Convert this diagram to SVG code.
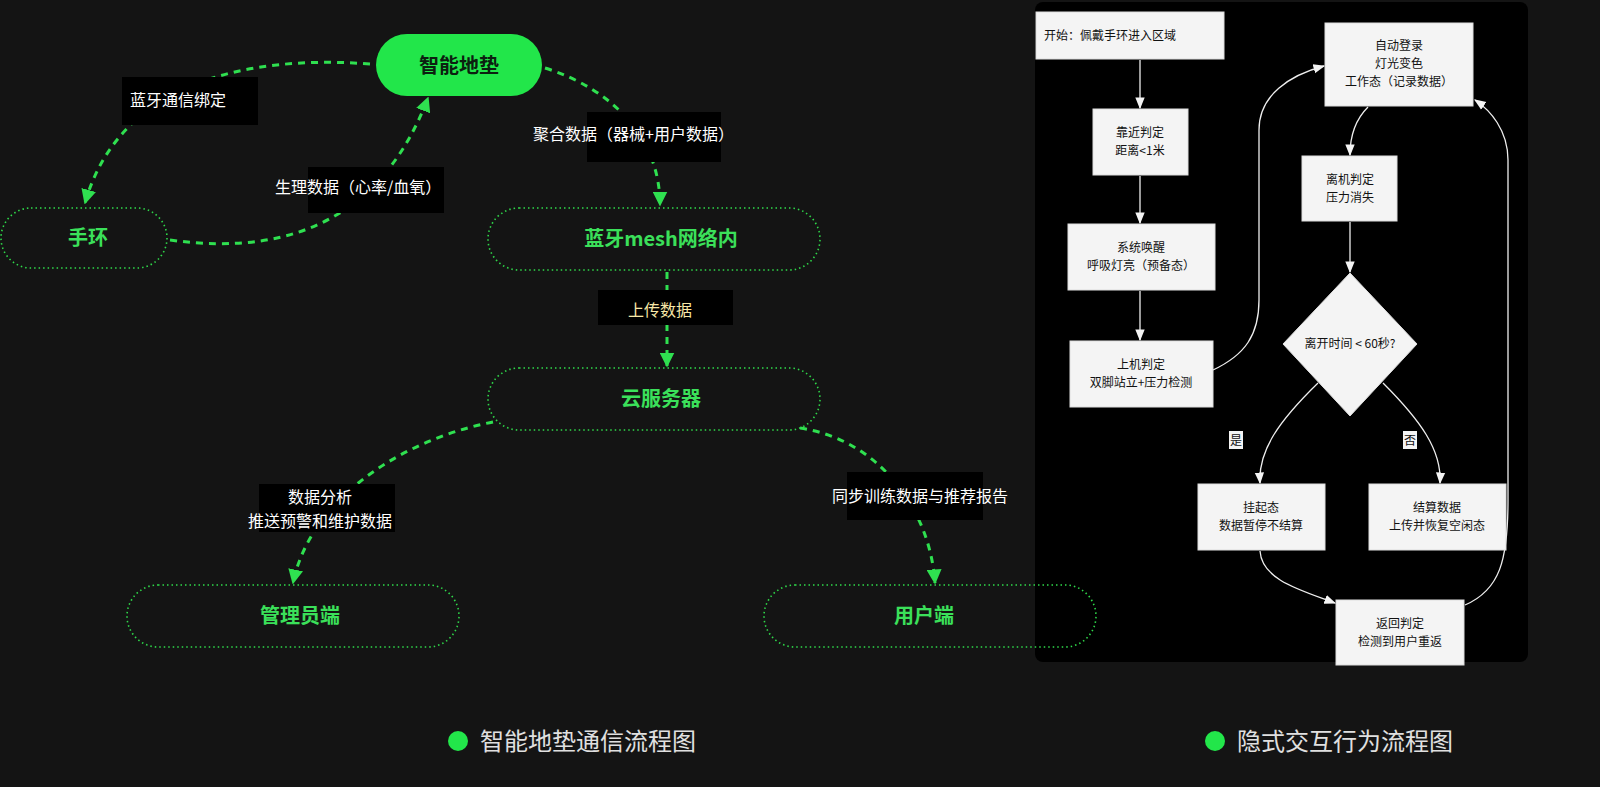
<svg xmlns="http://www.w3.org/2000/svg" width="1600" height="787" viewBox="0 0 1600 787">
<defs>
<style>
text{font-family:"Noto Sans CJK SC","Liberation Sans",sans-serif}
.gn{fill:none;stroke:#2fd94a;stroke-width:1.6;stroke-dasharray:1.5 3}
.gt{fill:#3be05a;font-size:20px;font-weight:bold;text-anchor:middle}
.dc{fill:none;stroke:#2fe050;stroke-width:3;stroke-dasharray:7 6}
.lb{fill:#000}
.lt{fill:#fff;font-size:16px}
.wb{fill:#f4f4f4;stroke:#ddd;stroke-width:1}
.wt{fill:#111;font-size:12px;text-anchor:middle}
.wc{fill:none;stroke:#eee;stroke-width:1.3}
.leg{fill:#e0e0e0;font-size:24px}
</style>
<marker id="ga" viewBox="0 0 10 10" refX="9" refY="5" markerWidth="5" markerHeight="5" orient="auto"><path d="M0,0L10,5L0,10z" fill="#2fe050"/></marker>
<marker id="wa" viewBox="0 0 10 10" refX="9" refY="5" markerWidth="9" markerHeight="9" orient="auto"><path d="M0,1L10,5L0,9z" fill="#f4f4f4"/></marker>
</defs>
<rect width="1600" height="787" fill="#141414"/>
<rect x="1035" y="2" width="493" height="660" rx="8" fill="#000"/>
<g id="connectors">
<path class="dc" marker-end="url(#ga)" d="M370,64 C250,55 120,80 85,203"/>
<path class="dc" marker-end="url(#ga)" d="M170,240 C300,258 385,210 428,98"/>
<path class="dc" marker-end="url(#ga)" d="M545,68 C615,90 660,140 660,205"/>
<path class="dc" marker-end="url(#ga)" d="M667,272 L667,366"/>
<path class="dc" marker-end="url(#ga)" d="M493,422 C400,440 310,500 293,583"/>
<path class="dc" marker-end="url(#ga)" d="M800,428 C880,440 930,510 935,583"/>
<path class="wc" marker-end="url(#wa)" d="M1140,60 L1140,108"/>
<path class="wc" marker-end="url(#wa)" d="M1140,176 L1140,223"/>
<path class="wc" marker-end="url(#wa)" d="M1140,291 L1140,340"/>
<path class="wc" marker-end="url(#wa)" d="M1213,370 C1245,355 1259,335 1259,300 L1259,130 C1259,95 1290,75 1324,66"/>
<path class="wc" marker-end="url(#wa)" d="M1368,107 C1355,120 1350,135 1350,155"/>
<path class="wc" marker-end="url(#wa)" d="M1350,222 L1350,272"/>
<path class="wc" marker-end="url(#wa)" d="M1318,383 C1280,420 1258,450 1260,483"/>
<path class="wc" marker-end="url(#wa)" d="M1383,383 C1420,420 1442,450 1440,483"/>
<path class="wc" marker-end="url(#wa)" d="M1260,551 C1262,580 1300,590 1335,603"/>
<path class="wc" marker-end="url(#wa)" d="M1465,605 C1500,590 1508,560 1508,500 L1508,160 C1508,130 1490,110 1475,100"/>
</g>
<g id="label-bind"><rect class="lb" x="122" y="77" width="136" height="48"/><text class="lt" x="130" y="106">蓝牙通信绑定</text></g>
<g id="label-phys"><rect class="lb" x="308" y="167" width="136" height="46"/><text class="lt" x="275" y="193">生理数据（心率/血氧）</text></g>
<g id="label-agg"><rect class="lb" x="587" y="112" width="134" height="50"/><text class="lt" x="533" y="140">聚合数据（器械+用户数据）</text></g>
<g id="label-up"><rect class="lb" x="598" y="290" width="135" height="35"/><text class="lt" x="660" y="316" text-anchor="middle" fill="#f8e8a8" style="fill:#f8e8a8">上传数据</text></g>
<g id="label-ana"><rect class="lb" x="259" y="484" width="136" height="48"/><text class="lt" x="320" y="503" text-anchor="middle">数据分析</text><text class="lt" x="320" y="527" text-anchor="middle">推送预警和维护数据</text></g>
<g id="label-sync"><rect class="lb" x="847" y="472" width="136" height="48"/><text class="lt" x="920" y="502" text-anchor="middle">同步训练数据与推荐报告</text></g>
<g id="node-mat"><rect x="376" y="34" width="166" height="62" rx="31" fill="#22e64a"/><text x="459" y="73" text-anchor="middle" font-size="20" font-weight="bold" fill="#0c2010">智能地垫</text></g>
<g id="node-band"><rect class="gn" x="1" y="208" width="166" height="60" rx="30"/><text class="gt" x="88" y="245">手环</text></g>
<g id="node-mesh"><rect class="gn" x="488" y="208" width="332" height="62" rx="31"/><text class="gt" x="661" y="246">蓝牙mesh网络内</text></g>
<g id="node-cloud"><rect class="gn" x="488" y="368" width="332" height="62" rx="31"/><text class="gt" x="661" y="406">云服务器</text></g>
<g id="node-admin"><rect class="gn" x="127" y="585" width="332" height="62" rx="31"/><text class="gt" x="300" y="623">管理员端</text></g>
<g id="node-user"><rect class="gn" x="764" y="585" width="332" height="62" rx="31"/><text class="gt" x="924" y="623">用户端</text></g>
<g id="f-start"><rect class="wb" x="1036" y="12" width="188" height="47"/><text class="wt" x="1110" y="40">开始：佩戴手环进入区域</text></g>
<g id="f-near"><rect class="wb" x="1093" y="109" width="95" height="66"/><text class="wt" x="1140" y="137">靠近判定</text><text class="wt" x="1140" y="155">距离&lt;1米</text></g>
<g id="f-wake"><rect class="wb" x="1068" y="224" width="147" height="66"/><text class="wt" x="1141" y="252">系统唤醒</text><text class="wt" x="1141" y="270">呼吸灯亮（预备态）</text></g>
<g id="f-on"><rect class="wb" x="1070" y="341" width="143" height="66"/><text class="wt" x="1141" y="369">上机判定</text><text class="wt" x="1141" y="387">双脚站立+压力检测</text></g>
<g id="f-login"><rect class="wb" x="1325" y="23" width="148" height="83"/><text class="wt" x="1399" y="50">自动登录</text><text class="wt" x="1399" y="68">灯光变色</text><text class="wt" x="1399" y="86">工作态（记录数据）</text></g>
<g id="f-off"><rect class="wb" x="1302" y="156" width="95" height="65"/><text class="wt" x="1350" y="184">离机判定</text><text class="wt" x="1350" y="202">压力消失</text></g>
<g id="f-dec"><path class="wb" d="M1350,273 L1417,344 L1350,416 L1283,344z"/><text class="wt" x="1350" y="348">离开时间 &lt; 60秒?</text></g>
<g id="f-hang"><rect class="wb" x="1198" y="484" width="127" height="66"/><text class="wt" x="1261" y="512">挂起态</text><text class="wt" x="1261" y="530">数据暂停不结算</text></g>
<g id="f-settle"><rect class="wb" x="1369" y="484" width="137" height="66"/><text class="wt" x="1437" y="512">结算数据</text><text class="wt" x="1437" y="530">上传并恢复空闲态</text></g>
<g id="f-back"><rect class="wb" x="1336" y="600" width="128" height="65"/><text class="wt" x="1400" y="628">返回判定</text><text class="wt" x="1400" y="646">检测到用户重返</text></g>
<g id="f-yes"><rect x="1229" y="431" width="14" height="18" fill="#f4f4f4"/><text class="wt" x="1236" y="445">是</text></g>
<g id="f-no"><rect x="1403" y="431" width="14" height="18" fill="#f4f4f4"/><text class="wt" x="1410" y="445">否</text></g>
<g id="legend"><circle cx="458" cy="741" r="10" fill="#22e64a"/><text class="leg" x="480" y="750">智能地垫通信流程图</text><circle cx="1215" cy="741" r="10" fill="#22e64a"/><text class="leg" x="1237" y="750">隐式交互行为流程图</text></g>
</svg>
